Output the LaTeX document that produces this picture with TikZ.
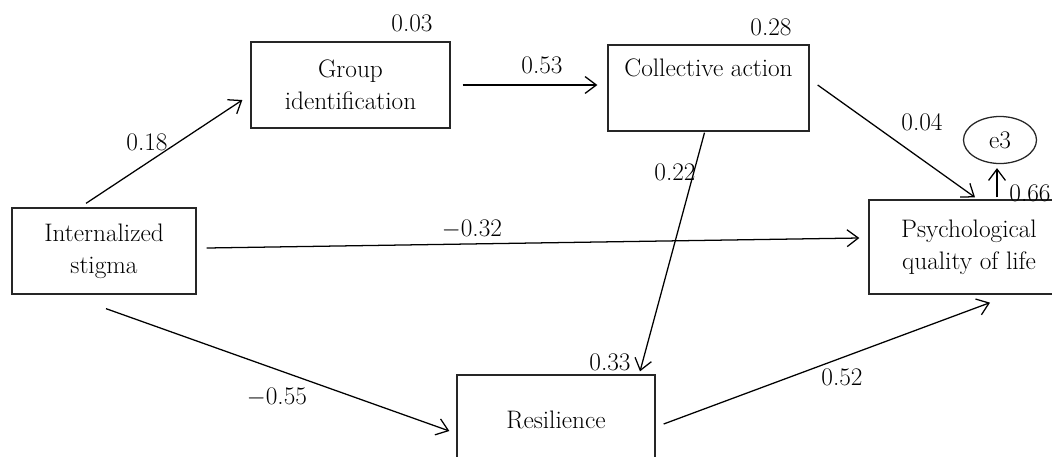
\documentclass[tikz,border=0pt]{standalone}
\usetikzlibrary{calc,arrows.meta,shapes.geometric}
\begin{document}
\begin{tikzpicture}[x=0.025cm,y=-0.025cm,
	font=\fontsize{18}{22.8}\selectfont,
	box/.style={draw=black!85, line width=0.9pt, align=center, inner sep=0pt},
	path/.style={line width=0.9pt, -{Straight Barb[length=8pt,width=12pt]}},
	coef/.style={inner sep=1pt}]
	\useasboundingbox (0,0) rectangle (1052,456);
	\node[box, minimum width=4.6cm, minimum height=2.15cm] (stigma) at (104,251) {Internalized\\stigma};
	\node[box, minimum width=4.975cm, minimum height=2.15cm] (group) at (350.5,85) {Group\\identification};
	\node[box, minimum width=5.025cm, minimum height=2.15cm] (collective) at (708.5,88) {Collective action\\\strut};
	\node[box, minimum width=5cm, minimum height=2.35cm] (quality) at (969,247) {Psychological\\quality of life};
	\node[box, minimum width=4.95cm, minimum height=2.25cm] (resilience) at (556,420) {Resilience};
	\node[draw=black!85, line width=0.9pt, ellipse, minimum width=1.825cm, minimum height=1.175cm, inner sep=0pt] (e3) at (1000,140) {e3};
	\draw[path] ($(stigma.north)+(-18,-4)$) -- ($(group.west)+(-8,15)$);
	\draw[path] ($(group.east)+(12,0)$) -- ($(collective.west)+(-10,-3)$);
	\draw[path] ($(collective.east)+(8,-3)$) -- ($(quality.north)+(6,-2)$);
	\draw[path] ($(stigma.east)+(10,-3)$) -- ($(quality.west)+(-9,-9)$);
	\draw[path] ($(stigma.south)+(2,14)$) -- ($(resilience.west)+(-7,11)$);
	\draw[path] ($(collective.south)+(-4,1)$) -- ($(resilience.north)+(84,-3)$);
	\draw[path] ($(resilience.east)+(8,4)$) -- ($(quality.south)+(21,8)$);
	\draw[path] ($(quality.north)+(28,-2)$) -- ($(e3.south)+(-3,4)$);
	\node[coef] (c1) at (412,23) {0.03};
	\node[coef] (c2) at (542,65) {0.53};
	\node[coef] (c3) at (771,27) {0.28};
	\node[coef] (c4) at (147,142) {0.18};
	\node[coef] (c5) at (922,122) {0.04};
	\node[coef] (c6) at (675,172) {0.22};
	\node[coef] (c7) at (472,229) {$-$0.32};
	\node[coef] (c8) at (1030,193) {0.66};
	\node[coef] (c9) at (610,362) {0.33};
	\node[coef] (c10) at (277,397) {$-$0.55};
	\node[coef] (c11) at (842,377) {0.52};
\end{tikzpicture}
\end{document}
